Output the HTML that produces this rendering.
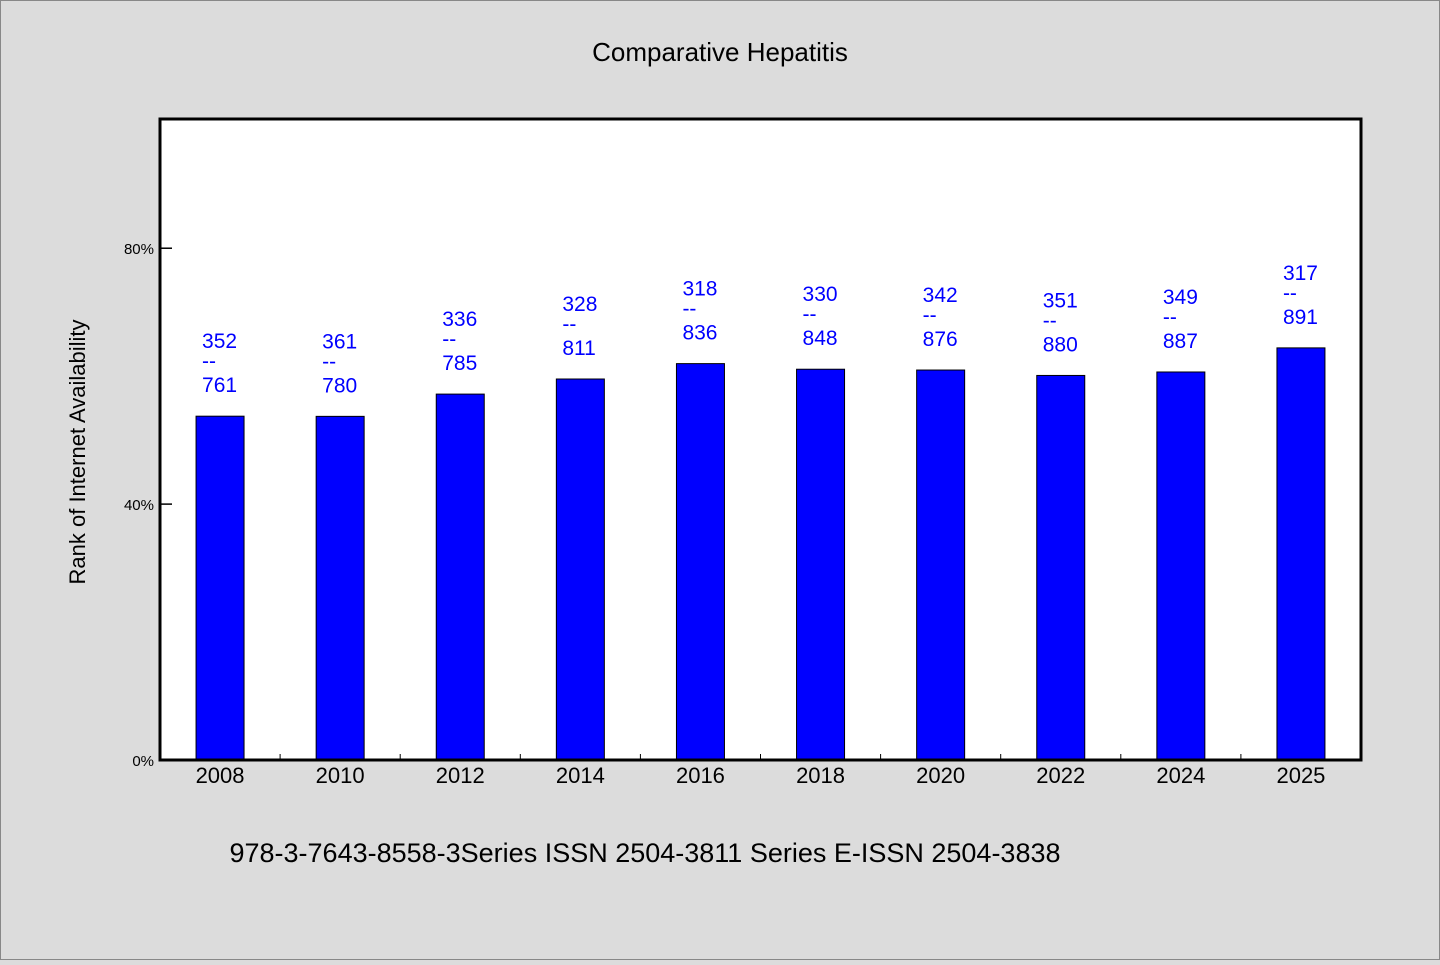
<!DOCTYPE html>
<html><head><meta charset="utf-8"><style>
body{margin:0;background:#dcdcdc;}
svg text{font-family:"WenQuanYi Zen Hei","Liberation Sans",sans-serif;}
</style></head><body>
<svg width="1440" height="960" xmlns="http://www.w3.org/2000/svg">
<rect x="0.5" y="0.5" width="1439" height="959" fill="#dcdcdc" stroke="#888"/>
<text x="720" y="61" text-anchor="middle" font-size="26">Comparative Hepatitis</text>
<rect x="160" y="119" width="1201" height="641" fill="#fff"/>
<g id="bars"></g>
<rect x="160" y="119" width="1201" height="641" fill="none" stroke="#000" stroke-width="3"/>
<text transform="translate(85,452) rotate(-90)" text-anchor="middle" font-size="22">Rank of Internet Availability</text>
<text x="645" y="862" text-anchor="middle" font-size="27">978-3-7643-8558-3Series ISSN 2504-3811 Series E-ISSN 2504-3838</text>
</svg>
<script>
const categories=["2008","2010","2012","2014","2016","2018","2020","2022","2024","2025"];
const numerators=[352,361,336,328,318,330,342,351,349,317];
const denominators=[761,780,785,811,836,848,876,880,887,891];
const yTicks=[0,40,80];
const NS="http://www.w3.org/2000/svg";
const X0=160,X1=1361,Y0=760,YT=119,YMAX=100.2;
const band=(X1-X0)/categories.length;
const y=v=>Y0-(v/YMAX)*(Y0-YT);
const xc=i=>X0+band*(i+0.5);
const g=document.getElementById('bars');
function mk(t,a){const e=document.createElementNS(NS,t);for(const k in a)e.setAttribute(k,a[k]);g.appendChild(e);return e;}
yTicks.forEach(t=>{
 const l=mk('line',{x1:X0,x2:X0+12,y1:y(t),y2:y(t),stroke:'#000','stroke-width':1.5});
 
 
 const tx=mk('text',{x:X0-6,y:y(t)+6,'text-anchor':'end','font-size':15});
 tx.textContent=t+'%';
 
 
});
categories.forEach((c,i)=>{
 const v=(1-numerators[i]/denominators[i])*100;
 const top=y(v);
 const r=mk('rect',{x:xc(i)-24,y:top,width:48,height:Y0-top,fill:'#0000ff',stroke:'#000','stroke-width':1});
 
 
 if(i>0){const tk=mk('line',{x1:X0+band*i,x2:X0+band*i,y1:Y0-6,y2:Y0,stroke:'#000'});
 
 }
 const xl=mk('text',{x:xc(i),y:Y0+23,'text-anchor':'middle','font-size':22});
 xl.textContent=c;
 
 
 const lx=xc(i)-18;
 const n=mk('text',{x:lx,y:top-68,'font-size':21,fill:'#0000ff'});
 n.textContent=numerators[i];
 
 
 const d=mk('text',{x:lx,y:top-48,'font-size':21,fill:'#0000ff'});
 d.textContent='--';
 
 
 const de=mk('text',{x:lx,y:top-24,'font-size':21,fill:'#0000ff'});
 de.textContent=denominators[i];
 
 
});
</script>
</body></html>
